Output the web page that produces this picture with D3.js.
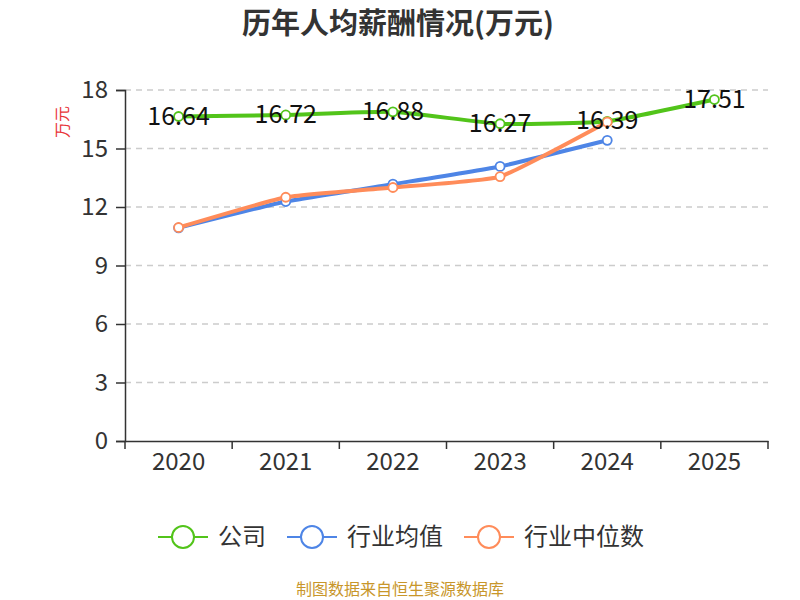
<!DOCTYPE html>
<html>
<head>
<meta charset="utf-8">
<script src="https://cdn.jsdelivr.net/npm/d3@7"></script>
<style>
  body { margin: 0; background: #fff; }
  text { font-family: "Noto Sans CJK SC", "Noto Sans", sans-serif; }
</style>
</head>
<body>
<script>
var years = ["2020", "2021", "2022", "2023", "2024", "2025"];
var company = [16.64, 16.72, 16.88, 16.27, 16.39, 17.51];
var industryAvg = [10.93, 12.28, 13.17, 14.08, 15.42, null];
var industryMedian = [10.95, 12.5, 13.0, 13.56, 16.36, null];
var yTicks = [0, 3, 6, 9, 12, 15, 18];

var seriesNames = ["公司", "行业均值", "行业中位数"];
var seriesColors = ["#52c41a", "#4e85e6", "#ff8c5a"];

var width = 800, height = 600;
var mLeft = 125, mRight = 768, mTop = 90, mBottom = 441;

var svg = d3.select("body").append("svg")
  .attr("width", width)
  .attr("height", height);

// title
svg.append("text")
  .attr("x", 398).attr("y", 34)
  .attr("text-anchor", "middle")
  .style("font-size", "29px").style("font-weight", "bold")
  .style("fill", "#333")
  .text("历年人均薪酬情况(万元)");

var x = d3.scaleBand().domain(years).range([mLeft, mRight]);
var y = d3.scaleLinear().domain([0, 18]).range([mBottom, mTop]);

// grid
svg.append("g").selectAll("line")
  .data(yTicks.filter(d => d > 0))
  .join("line")
  .attr("x1", mLeft).attr("x2", mRight)
  .attr("y1", d => y(d)).attr("y2", d => y(d))
  .attr("stroke", "#ccc")
  .attr("stroke-dasharray", "6,5")
  .attr("stroke-width", 1.3);

// y axis
var yAxis = svg.append("g")
  .attr("transform", "translate(" + mLeft + ",0)")
  .call(d3.axisLeft(y).tickValues(yTicks).tickSize(9).tickPadding(8));
yAxis.selectAll("text").style("font-size", "24px").style("fill", "#333");
yAxis.selectAll("line, path").attr("stroke", "#333").attr("stroke-width", 1.5);

// x axis
var xAxis = svg.append("g")
  .attr("transform", "translate(0," + mBottom + ")")
  .call(d3.axisBottom(x).tickSize(0).tickPadding(12));
xAxis.selectAll("text").style("font-size", "24px").style("fill", "#333");
xAxis.select("path").attr("stroke", "#333").attr("stroke-width", 1.5);
svg.append("g").selectAll("line")
  .data(years.concat(["end"]))
  .join("line")
  .attr("x1", (d, i) => mLeft + i * x.bandwidth())
  .attr("x2", (d, i) => mLeft + i * x.bandwidth())
  .attr("y1", mBottom).attr("y2", mBottom + 8)
  .attr("stroke", "#333").attr("stroke-width", 1.5);

// y axis unit label
svg.append("text")
  .attr("transform", "translate(68,122) rotate(-90)")
  .attr("text-anchor", "middle")
  .style("font-size", "16px")
  .style("fill", "#e8353a")
  .text("万元");

var line = d3.line()
  .defined(d => d.v != null)
  .x(d => x(d.year) + x.bandwidth() / 2)
  .y(d => y(d.v))
  .curve(d3.curveCardinal.tension(0.6));

var labelLayer;

function drawSeries(values, color, labels) {
  var pts = years.map((yr, i) => ({ year: yr, v: values[i] }));
  svg.append("path")
    .datum(pts)
    .attr("d", line)
    .attr("fill", "none")
    .attr("stroke", color)
    .attr("stroke-width", 4);
  svg.append("g").selectAll("circle")
    .data(pts.filter(d => d.v != null))
    .join("circle")
    .attr("cx", d => x(d.year) + x.bandwidth() / 2)
    .attr("cy", d => y(d.v))
    .attr("r", 4.5)
    .attr("fill", "#fff")
    .attr("stroke", color)
    .attr("stroke-width", 1.8);
  if (labels) labelLayer = pts.filter(d => d.v != null);
}

drawSeries(company, seriesColors[0], true);
drawSeries(industryAvg, seriesColors[1], false);
drawSeries(industryMedian, seriesColors[2], false);

// labels of the company series, on top of every line
svg.append("g").selectAll("text")
  .data(labelLayer)
  .join("text")
  .attr("x", d => x(d.year) + x.bandwidth() / 2)
  .attr("y", d => y(d.v) + 8)
  .attr("text-anchor", "middle")
  .style("font-size", "25px")
  .style("fill", "#111")
  .text(d => d.v.toFixed(2));

// legend
var legendX = [158, 287, 464];
var legend = svg.append("g");
seriesNames.forEach(function(name, i) {
  var g = legend.append("g").attr("transform", "translate(" + legendX[i] + ",537)");
  g.append("line").attr("x1", 0).attr("x2", 50).attr("y1", 0).attr("y2", 0)
    .attr("stroke", seriesColors[i]).attr("stroke-width", 2);
  g.append("circle").attr("cx", 25).attr("cy", 0).attr("r", 11)
    .attr("fill", "#fff").attr("stroke", seriesColors[i]).attr("stroke-width", 2);
  g.append("text").attr("x", 60).attr("y", 8)
    .style("font-size", "24px").style("fill", "#333")
    .text(name);
});

// source
svg.append("text")
  .attr("x", 400).attr("y", 595)
  .attr("text-anchor", "middle")
  .style("font-size", "16px")
  .style("fill", "#c8962a")
  .text("制图数据来自恒生聚源数据库");
</script>
</body>
</html>
